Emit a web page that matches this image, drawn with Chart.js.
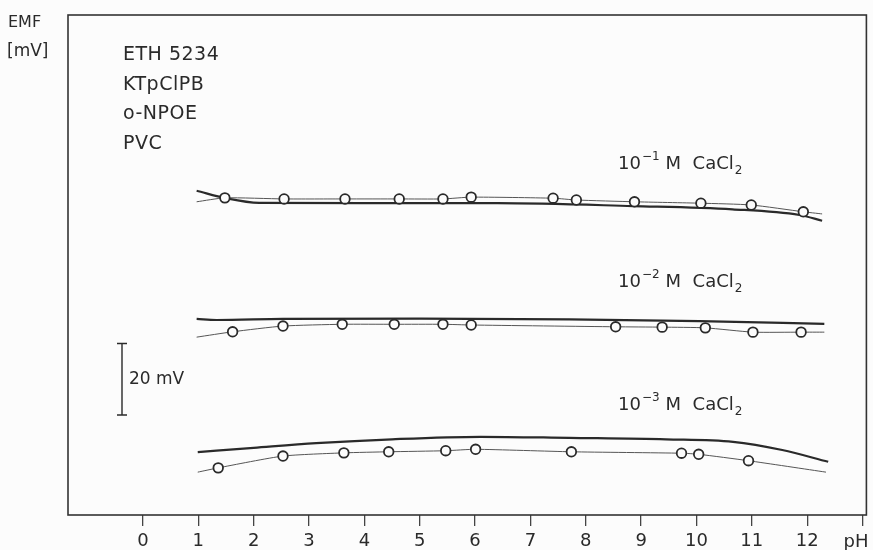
<!DOCTYPE html>
<html>
<head>
<meta charset="utf-8">
<script src="https://cdn.jsdelivr.net/npm/chart.js@4"></script>
<style>
  body { margin: 0; background: #fcfcfc; }
  #wrap { width: 873px; height: 550px; position: relative; }
</style>
</head>
<body>
<div id="wrap"><canvas id="emfChart"></canvas></div>
<script>
// x axis: pH, y axis: EMF in mV (relative, no ticks shown)
const xTicks = [0, 1, 2, 3, 4, 5, 6, 7, 8, 9, 10, 11, 12, 13];

// 10^-1 M CaCl2
const pHPts1 = [1.48, 2.55, 3.65, 4.63, 5.42, 5.93, 7.41, 7.83, 8.88, 10.08, 10.99, 11.93];
const emfPts1 = [88.8, 88.5, 88.5, 88.5, 88.5, 89.0, 88.7, 88.2, 87.7, 87.3, 86.8, 84.9];
const thinPh1 = [0.97, 1.48, 2.55, 3.65, 4.63, 5.42, 5.93, 7.41, 7.83, 8.88, 10.08, 10.99, 11.93, 12.27];
const thinEmf1 = [87.7, 88.8, 88.5, 88.5, 88.5, 88.5, 89.0, 88.7, 88.2, 87.7, 87.3, 86.8, 84.9, 84.3];
const thickPh1 = [0.97, 1.5, 2.1, 4.0, 6.4, 8.85, 10.65, 11.86, 12.27];
const thickEmf1 = [90.8, 88.7, 87.4, 87.3, 87.3, 86.5, 85.6, 84.0, 82.4];

// 10^-2 M CaCl2
const pHPts2 = [1.62, 2.53, 3.6, 4.54, 5.42, 5.93, 8.54, 9.38, 10.16, 11.02, 11.89];
const emfPts2 = [51.3, 52.9, 53.4, 53.4, 53.4, 53.2, 52.7, 52.6, 52.4, 51.2, 51.2];
const thinPh2 = [0.97, 1.62, 2.53, 3.6, 4.54, 5.42, 5.93, 8.54, 9.38, 10.16, 11.02, 11.89, 12.31];
const thinEmf2 = [49.8, 51.3, 52.9, 53.4, 53.4, 53.4, 53.2, 52.7, 52.6, 52.4, 51.2, 51.2, 51.2];
const thickPh2 = [0.97, 1.33, 2.53, 5.0, 7.7, 10.05, 12.31];
const thickEmf2 = [54.9, 54.6, 54.9, 55.0, 54.8, 54.3, 53.5];

// 10^-3 M CaCl2
const pHPts3 = [1.36, 2.53, 3.63, 4.44, 5.47, 6.01, 7.74, 9.73, 10.04, 10.94];
const emfPts3 = [13.2, 16.5, 17.4, 17.7, 18.0, 18.4, 17.7, 17.3, 17.0, 15.2];
const thinPh3 = [0.99, 1.36, 2.53, 3.63, 4.44, 5.47, 6.01, 7.74, 9.73, 10.04, 10.94, 12.34];
const thinEmf3 = [12.0, 13.2, 16.5, 17.4, 17.7, 18.0, 18.4, 17.7, 17.3, 17.0, 15.2, 12.0];
const thickPh3 = [0.99, 2.0, 3.13, 4.5, 6.1, 7.7, 9.45, 10.66, 11.55, 12.38];
const thickEmf3 = [17.6, 18.8, 20.1, 21.2, 21.9, 21.6, 21.2, 20.5, 18.2, 14.9];

// 20 mV scale bar
const scaleBarBase = 28;
const scaleBarSpan = 20;

const membraneLines = ['ETH 5234', 'KTpClPB', 'o-NPOE', 'PVC'];
const concExponents = ['1', '2', '3'];

const FONT = "'DejaVu Sans', sans-serif";
const INK = '#2a2a2a';

function xy(xs, ys) {
    return xs.map((x, i) => ({ x: x, y: ys[i] }));
}

function pointSet(xs, ys) {
    return {
        data: xy(xs, ys),
        showLine: false,
        pointRadius: 4.8,
        pointBorderWidth: 1.8,
        pointBackgroundColor: '#fcfcfc',
        pointBorderColor: INK,
        order: 0
    };
}

function thinSet(xs, ys) {
    return {
        data: xy(xs, ys),
        showLine: true,
        borderColor: '#555',
        borderWidth: 1,
        pointRadius: 0,
        tension: 0.2,
        order: 1
    };
}

function thickSet(xs, ys) {
    return {
        data: xy(xs, ys),
        showLine: true,
        borderColor: INK,
        borderWidth: 2.2,
        pointRadius: 0,
        cubicInterpolationMode: 'monotone',
        order: 2
    };
}

function drawConc(ctx, x, y, exp) {
    ctx.textBaseline = 'alphabetic';
    ctx.textAlign = 'left';
    ctx.font = '18px ' + FONT;
    ctx.fillText('10', x, y);
    let cx = x + ctx.measureText('10').width + 1;
    ctx.font = '12px ' + FONT;
    ctx.fillText('\u2212' + exp, cx, y - 9);
    cx += ctx.measureText('\u2212' + exp).width + 6;
    ctx.font = '18px ' + FONT;
    ctx.fillText('M  CaCl', cx, y);
    cx += ctx.measureText('M  CaCl').width + 1;
    ctx.font = '12px ' + FONT;
    ctx.fillText('2', cx, y + 5);
}

const annotations = {
    id: 'annotations',
    afterDatasetsDraw(chart) {
        const ctx = chart.ctx;
        const a = chart.chartArea;
        const ys = chart.scales.y;
        ctx.save();

        // frame
        ctx.strokeStyle = '#333';
        ctx.lineWidth = 1.6;
        ctx.strokeRect(a.left, a.top, a.right - a.left, a.bottom - a.top);

        ctx.fillStyle = INK;

        // y axis title
        ctx.font = '16px ' + FONT;
        ctx.textAlign = 'left';
        ctx.textBaseline = 'middle';
        ctx.fillText('EMF', 8, 23);
        ctx.font = '17px ' + FONT;
        ctx.fillText('[mV]', 7, 52);

        // membrane composition
        ctx.font = '19px ' + FONT;
        ctx.letterSpacing = '0.5px';
        membraneLines.forEach((t, i) => {
            ctx.fillText(t, 123, 55 + i * 29.7);
        });
        ctx.letterSpacing = '0px';

        // concentration labels
        drawConc(ctx, 618, 169, concExponents[0]);
        drawConc(ctx, 618, 287, concExponents[1]);
        drawConc(ctx, 618, 410, concExponents[2]);

        // scale bar
        const bx = 122;
        const yb = ys.getPixelForValue(scaleBarBase);
        const yt = ys.getPixelForValue(scaleBarBase + scaleBarSpan);
        ctx.strokeStyle = INK;
        ctx.lineWidth = 1.4;
        ctx.beginPath();
        ctx.moveTo(bx, yt); ctx.lineTo(bx, yb);
        ctx.moveTo(bx - 5, yt); ctx.lineTo(bx + 5, yt);
        ctx.moveTo(bx - 5, yb); ctx.lineTo(bx + 5, yb);
        ctx.stroke();
        ctx.font = '17px ' + FONT;
        ctx.textBaseline = 'middle';
        ctx.fillText('20 mV', 129, (yt + yb) / 2);

        // x axis unit
        ctx.font = '18px ' + FONT;
        ctx.textAlign = 'center';
        ctx.fillText('pH', 856, 542);

        ctx.restore();
    }
};

new Chart(document.getElementById('emfChart'), {
    type: 'scatter',
    data: {
        datasets: [
            pointSet(pHPts1, emfPts1),
            pointSet(pHPts2, emfPts2),
            pointSet(pHPts3, emfPts3),
            thinSet(thinPh1, thinEmf1),
            thinSet(thinPh2, thinEmf2),
            thinSet(thinPh3, thinEmf3),
            thickSet(thickPh1, thickEmf1),
            thickSet(thickPh2, thickEmf2),
            thickSet(thickPh3, thickEmf3)
        ]
    },
    options: {
        responsive: true,
        maintainAspectRatio: false,
        animation: false,
        layout: { padding: { left: 68, top: 15, right: 6, bottom: 0 } },
        scales: {
            x: {
                type: 'linear',
                min: -1.354,
                max: 13.07,
                afterBuildTicks: axis => { axis.ticks = xTicks.map(v => ({ value: v })); },
                afterFit: axis => { axis.height = 35; },
                border: { display: false },
                grid: {
                    display: true,
                    drawOnChartArea: false,
                    drawTicks: true,
                    tickLength: 11,
                    color: '#444',
                    lineWidth: 1.3
                },
                ticks: {
                    autoSkip: false,
                    maxRotation: 0,
                    padding: 5,
                    color: INK,
                    font: { family: FONT, size: 18 },
                    callback: v => (v === 13 ? '' : v)
                }
            },
            y: {
                type: 'linear',
                display: false,
                min: 0,
                max: 140
            }
        },
        plugins: {
            legend: { display: false },
            tooltip: { enabled: false }
        }
    },
    plugins: [annotations]
});
</script>
</body>
</html>
